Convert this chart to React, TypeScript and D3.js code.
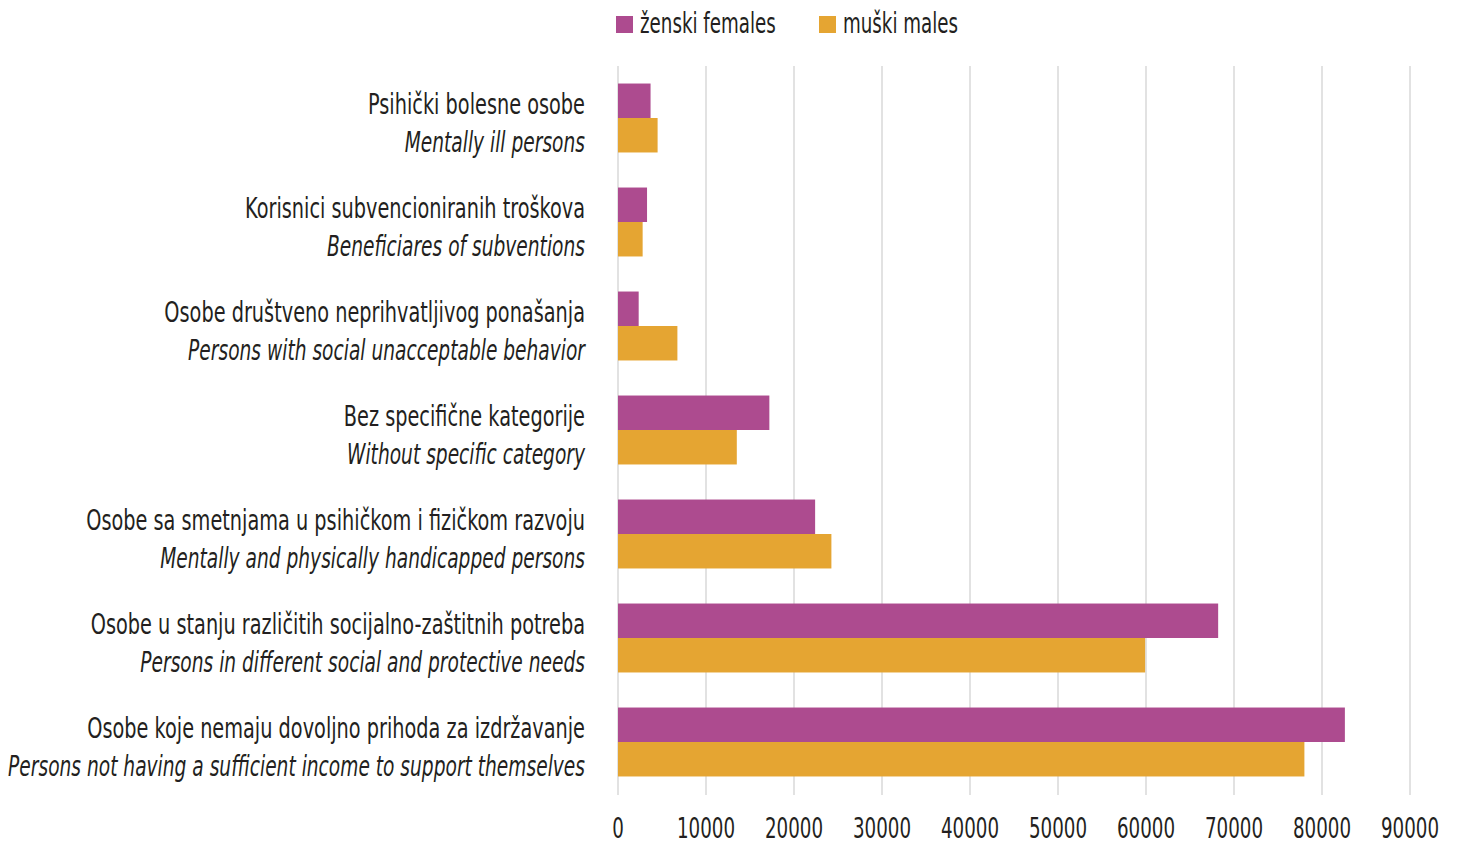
import React from "react";
import * as d3 from "d3";

const categoriesHr = [
  "Psihički bolesne osobe",
  "Korisnici subvencioniranih troškova",
  "Osobe društveno neprihvatljivog ponašanja",
  "Bez specifične kategorije",
  "Osobe sa smetnjama u psihičkom i fizičkom razvoju",
  "Osobe u stanju različitih socijalno-zaštitnih potreba",
  "Osobe koje nemaju dovoljno prihoda za izdržavanje",
];
const categoriesEn = [
  "Mentally ill persons",
  "Beneficiares of subventions",
  "Persons with social unacceptable behavior",
  "Without specific category",
  "Mentally and physically handicapped persons",
  "Persons in different social and protective needs",
  "Persons not having a sufficient income to support themselves",
];
const females = [3700, 3300, 2350, 17200, 22400, 68200, 82600];
const males = [4500, 2800, 6750, 13500, 24250, 59900, 78000];
const xTicks = [0, 10000, 20000, 30000, 40000, 50000, 60000, 70000, 80000, 90000];
const seriesNames = ["ženski females", "muški males"];
const seriesColors = ["#AD4B8F", "#E5A532"];

const width = 1457;
const height = 845;
const margin = { top: 66, right: 47, bottom: 51, left: 618 };
const font = "'Liberation Sans Narrow', 'DejaVu Sans Condensed', sans-serif";
// condensed look of the original typeface
const squeeze = 0.74;
const squeezeItalic = 0.714;
const squeezeSmall = 0.7;

export default function App() {
  const x = d3
    .scaleLinear()
    .domain([0, 90000])
    .range([margin.left, width - margin.right]);

  const y = d3
    .scaleBand<number>()
    .domain(d3.range(categoriesHr.length))
    .range([margin.top, height - margin.bottom])
    .paddingInner(0.337)
    .paddingOuter(0.1685);

  const inner = d3
    .scaleBand<number>()
    .domain([0, 1])
    .range([0, y.bandwidth()]);

  const series = [females, males];

  return (
    <svg
      width={width}
      height={height}
      style={{ position: "absolute", left: 0, top: 0, fontFamily: font }}
    >
      {/* grid */}
      {xTicks.map((t) => (
        <line
          key={t}
          x1={x(t)}
          x2={x(t)}
          y1={margin.top}
          y2={height - margin.bottom + 1}
          stroke="#d9d9d9"
          strokeWidth={1.5}
        />
      ))}
      {/* tick labels */}
      {xTicks.map((t) => (
        <text
          key={t}
          transform={`translate(${x(t)},838) scale(0.725,1)`}
          textAnchor="middle"
          fontSize={28}
          fill="#231f20"
        >
          {t}
        </text>
      ))}
      {/* bars */}
      {series.map((vals, s) =>
        vals.map((v, i) => (
          <rect
            key={`${s}-${i}`}
            x={x(0)}
            y={(y(i) ?? 0) + (inner(s) ?? 0)}
            width={x(v) - x(0)}
            height={inner.bandwidth()}
            fill={seriesColors[s]}
          />
        ))
      )}
      {/* category labels */}
      {categoriesHr.map((c, i) => {
        const cy = (y(i) ?? 0) + y.bandwidth() / 2;
        return (
          <g key={c} fill="#231f20" fontSize={29}>
            <text
              transform={`translate(585,${cy - 4}) scale(${squeeze},1)`}
              textAnchor="end"
            >
              {c}
            </text>
            <text
              transform={`translate(585,${cy + 34}) scale(${squeezeItalic},1)`}
              textAnchor="end"
              fontStyle="italic"
            >
              {categoriesEn[i]}
            </text>
          </g>
        );
      })}
      {/* legend */}
      {seriesNames.map((n, s) => {
        const lx = s === 0 ? 616 : 819;
        return (
          <g key={n}>
            <rect x={lx} y={16} width={17} height={17} fill={seriesColors[s]} />
            <text
              transform={`translate(${lx + 24},33) scale(${squeezeSmall},1)`}
              fontSize={29}
              fill="#231f20"
            >
              {n}
            </text>
          </g>
        );
      })}
    </svg>
  );
}
